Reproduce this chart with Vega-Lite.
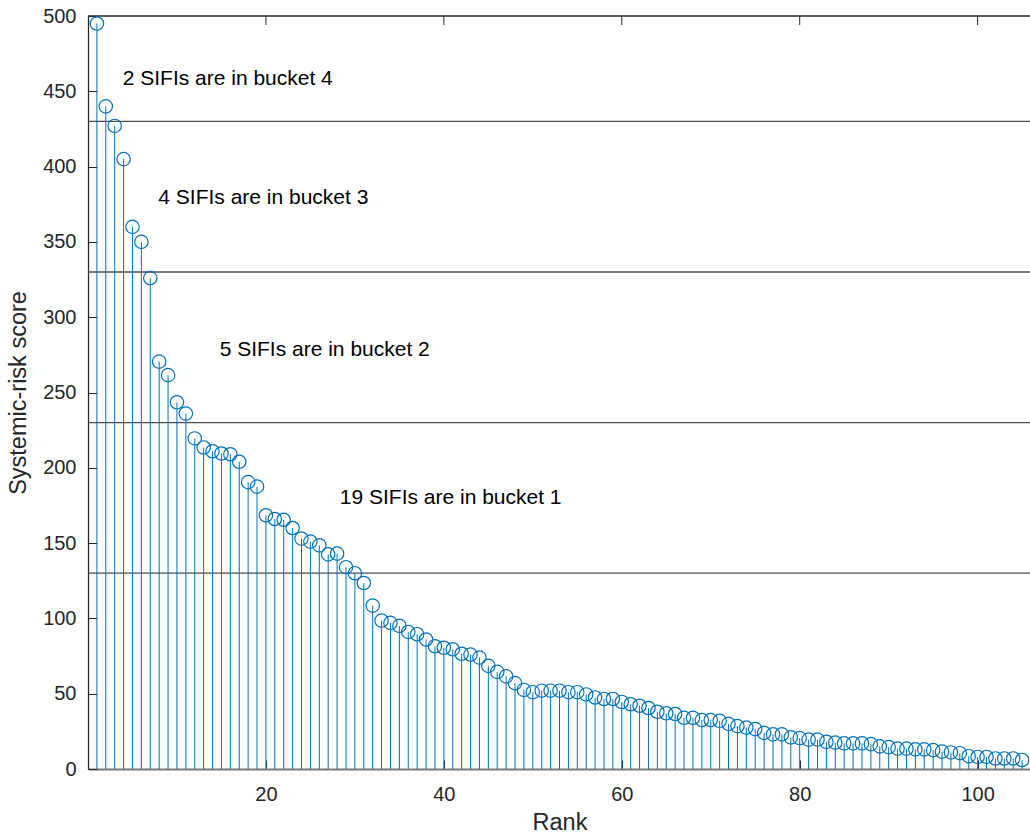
{
  "$schema": "https://vega.github.io/schema/vega-lite/v6.json",
  "width": 943,
  "height": 753,
  "autosize": {"type": "none"},
  "padding": {"left": 88, "top": 16, "right": 0, "bottom": 65},
  "background": "white",
  "config": {
    "view": {"stroke": null},
    "font": "Liberation Sans",
    "axis": {
      "labelFont": "Liberation Sans",
      "titleFont": "Liberation Sans",
      "labelColor": "#262626",
      "titleColor": "#262626",
      "domainColor": "#262626",
      "tickColor": "#262626",
      "labelFontSize": 20,
      "titleFontSize": 23.5,
      "titleFontWeight": "normal",
      "grid": false
    }
  },
  "datasets": {
    "scores": [
      {"rank": 1, "score": 495}, {"rank": 2, "score": 440}, {"rank": 3, "score": 427}, {"rank": 4, "score": 405},
      {"rank": 5, "score": 360}, {"rank": 6, "score": 350}, {"rank": 7, "score": 326}, {"rank": 8, "score": 270.5},
      {"rank": 9, "score": 261.5}, {"rank": 10, "score": 243.5}, {"rank": 11, "score": 236}, {"rank": 12, "score": 219.5},
      {"rank": 13, "score": 213.5}, {"rank": 14, "score": 211}, {"rank": 15, "score": 209.5}, {"rank": 16, "score": 209},
      {"rank": 17, "score": 204}, {"rank": 18, "score": 190.5}, {"rank": 19, "score": 187.5}, {"rank": 20, "score": 168.5},
      {"rank": 21, "score": 166}, {"rank": 22, "score": 165.5}, {"rank": 23, "score": 160}, {"rank": 24, "score": 153},
      {"rank": 25, "score": 151}, {"rank": 26, "score": 148.5}, {"rank": 27, "score": 142.5}, {"rank": 28, "score": 143},
      {"rank": 29, "score": 134}, {"rank": 30, "score": 130}, {"rank": 31, "score": 123.5}, {"rank": 32, "score": 108.5},
      {"rank": 33, "score": 98.5}, {"rank": 34, "score": 97}, {"rank": 35, "score": 95}, {"rank": 36, "score": 91},
      {"rank": 37, "score": 89.5}, {"rank": 38, "score": 86}, {"rank": 39, "score": 81.5}, {"rank": 40, "score": 80.5},
      {"rank": 41, "score": 79.5}, {"rank": 42, "score": 76.5}, {"rank": 43, "score": 76}, {"rank": 44, "score": 74},
      {"rank": 45, "score": 68.5}, {"rank": 46, "score": 64.5}, {"rank": 47, "score": 61.5}, {"rank": 48, "score": 57},
      {"rank": 49, "score": 52.5}, {"rank": 50, "score": 51}, {"rank": 51, "score": 52}, {"rank": 52, "score": 52},
      {"rank": 53, "score": 52}, {"rank": 54, "score": 51}, {"rank": 55, "score": 51}, {"rank": 56, "score": 49.5},
      {"rank": 57, "score": 47.5}, {"rank": 58, "score": 46.5}, {"rank": 59, "score": 46.5}, {"rank": 60, "score": 44.5},
      {"rank": 61, "score": 43}, {"rank": 62, "score": 42}, {"rank": 63, "score": 40.5}, {"rank": 64, "score": 38},
      {"rank": 65, "score": 37}, {"rank": 66, "score": 36.5}, {"rank": 67, "score": 34}, {"rank": 68, "score": 34},
      {"rank": 69, "score": 32.5}, {"rank": 70, "score": 32.5}, {"rank": 71, "score": 32}, {"rank": 72, "score": 30},
      {"rank": 73, "score": 28.5}, {"rank": 74, "score": 27.5}, {"rank": 75, "score": 26.5}, {"rank": 76, "score": 24},
      {"rank": 77, "score": 23}, {"rank": 78, "score": 23}, {"rank": 79, "score": 21}, {"rank": 80, "score": 20.5},
      {"rank": 81, "score": 19.5}, {"rank": 82, "score": 19.5}, {"rank": 83, "score": 18}, {"rank": 84, "score": 17.5},
      {"rank": 85, "score": 17}, {"rank": 86, "score": 17}, {"rank": 87, "score": 17}, {"rank": 88, "score": 16.5},
      {"rank": 89, "score": 15}, {"rank": 90, "score": 14.5}, {"rank": 91, "score": 13.5}, {"rank": 92, "score": 13.5},
      {"rank": 93, "score": 13}, {"rank": 94, "score": 13}, {"rank": 95, "score": 12.5}, {"rank": 96, "score": 11.5},
      {"rank": 97, "score": 11}, {"rank": 98, "score": 10.5}, {"rank": 99, "score": 8.5}, {"rank": 100, "score": 8},
      {"rank": 101, "score": 8}, {"rank": 102, "score": 7}, {"rank": 103, "score": 7}, {"rank": 104, "score": 7},
      {"rank": 105, "score": 6}
    ],
    "thresholds": [{"level": 130}, {"level": 230}, {"level": 330}, {"level": 430}],
    "frame": [{"level": 500}],
    "toptick": [{"rank": 20}, {"rank": 40}, {"rank": 60}, {"rank": 80}, {"rank": 100}],
    "notes": [
      {"rank": 3.9, "score": 458, "label": "2 SIFIs are in bucket 4"},
      {"rank": 7.9, "score": 379, "label": "4 SIFIs are in bucket 3"},
      {"rank": 14.8, "score": 278, "label": "5 SIFIs are in bucket 2"},
      {"rank": 28.3, "score": 180, "label": "19 SIFIs are in bucket 1"}
    ]
  },
  "layer": [
    {
      "data": {"name": "thresholds"},
      "mark": {"type": "rule", "color": "#4d4d4d", "strokeWidth": 1.3},
      "encoding": {
        "y": {"field": "level", "type": "quantitative"}
      }
    },
    {
      "data": {"name": "frame"},
      "mark": {"type": "rule", "color": "#262626", "strokeWidth": 1.3},
      "encoding": {
        "y": {"field": "level", "type": "quantitative"}
      }
    },
    {
      "data": {"name": "toptick"},
      "mark": {"type": "rule", "color": "#262626", "strokeWidth": 1},
      "encoding": {
        "x": {"field": "rank", "type": "quantitative"},
        "y": {"datum": 500},
        "y2": {"datum": 494}
      }
    },
    {
      "data": {"name": "scores"},
      "mark": {"type": "rule", "color": "#0072BD", "strokeWidth": 1},
      "encoding": {
        "x": {"field": "rank", "type": "quantitative"},
        "y": {"field": "score", "type": "quantitative"},
        "y2": {"datum": 0}
      }
    },
    {
      "data": {"name": "scores"},
      "mark": {"type": "point", "shape": "circle", "filled": false, "size": 180, "stroke": "#0072BD", "strokeWidth": 1.2, "opacity": 1},
      "encoding": {
        "x": {"field": "rank", "type": "quantitative", "scale": {"domain": [0, 106], "nice": false},
          "axis": {"title": "Rank", "values": [20, 40, 60, 80, 100], "tickSize": -9, "labelPadding": 24, "titlePadding": 6, "domainColor": "#7a7a7a", "domainWidth": 2}},
        "y": {"field": "score", "type": "quantitative", "scale": {"domain": [0, 500], "nice": false},
          "axis": {"title": "Systemic-risk score", "values": [0, 50, 100, 150, 200, 250, 300, 350, 400, 450, 500], "tickSize": -9, "labelPadding": 21, "titlePadding": 12, "domainWidth": 1.3}}
      }
    },
    {
      "data": {"name": "notes"},
      "mark": {"type": "text", "align": "left", "baseline": "middle", "fontSize": 21, "font": "Liberation Sans", "color": "#000000"},
      "encoding": {
        "x": {"field": "rank", "type": "quantitative"},
        "y": {"field": "score", "type": "quantitative"},
        "text": {"field": "label"}
      }
    }
  ]
}
